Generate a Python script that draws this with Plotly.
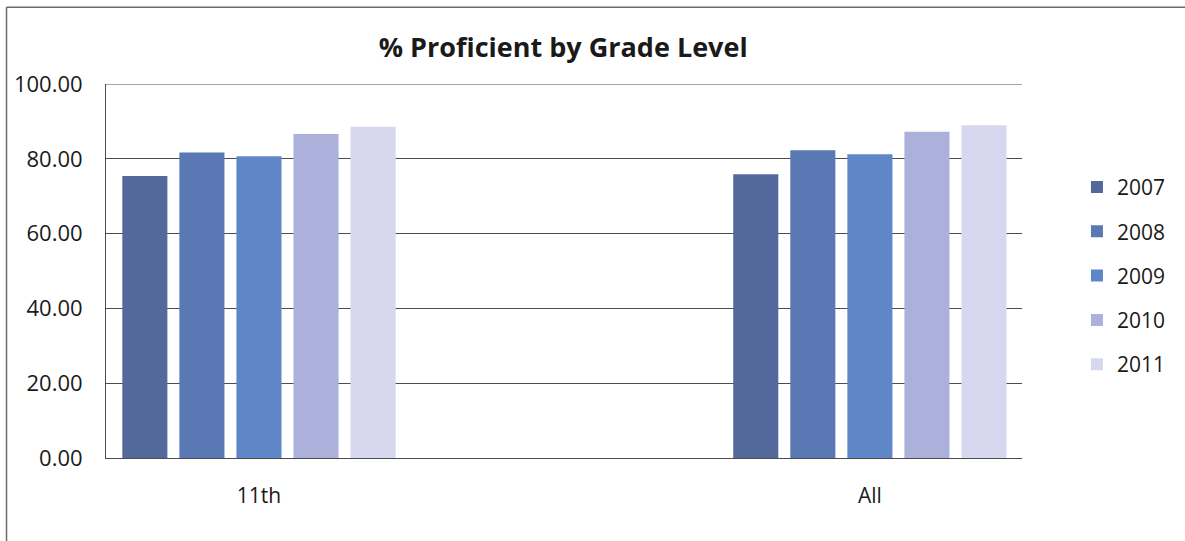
import plotly.graph_objects as go

categories = [0, 1]
category_labels = ["11th", "All"]
years = ["2007", "2008", "2009", "2010", "2011"]
values_2007 = [75.4, 75.9]
values_2008 = [81.7, 82.3]
values_2009 = [80.7, 81.2]
values_2010 = [86.6, 87.2]
values_2011 = [88.6, 89.0]
series = [values_2007, values_2008, values_2009, values_2010, values_2011]
colors = ["#53699c", "#5a78b3", "#5f87c8", "#abb1da", "#d7d7f0"]
y_ticks = [0, 20, 40, 60, 80, 100]
y_tick_labels = ["0.00", "20.00", "40.00", "60.00", "80.00", "100.00"]

FONT = "Open Sans"
GRID = "#4d4d4d"

fig = go.Figure()
for name, vals, col in zip(years, series, colors):
    fig.add_trace(go.Bar(
        x=categories, y=vals, name=name, legendgroup=name,
        marker=dict(color=col, line=dict(width=0)),
    ))

fig.update_layout(
    width=1185, height=541,
    margin=dict(l=106, r=163, t=84, b=83),
    paper_bgcolor="white", plot_bgcolor="white",
    barmode="group", bargap=0.533, bargroupgap=0.21,
    font=dict(family=FONT, color="#1a1a1a"),
    title=dict(text="<b>% Proficient by Grade Level</b>", x=0.4753, xref="container",
               y=0.913, yref="container", xanchor="center", yanchor="middle",
               font=dict(size=27, family=FONT, color="#1a1a1a")),
    showlegend=True,
    legend=dict(x=1.060, xanchor="left", y=0.487, yanchor="middle",
                font=dict(size=21, family=FONT, color="#1a1a1a"),
                tracegroupgap=14, itemwidth=30, bgcolor="rgba(0,0,0,0)"),
    xaxis=dict(range=[-0.2504, 1.249], tickmode="array", tickvals=categories,
               ticktext=category_labels, showgrid=False, zeroline=False,
               showline=True, linecolor=GRID, linewidth=1,
               ticks="", tickfont=dict(size=21, family=FONT, color="#1a1a1a"),
               ticklabelstandoff=19),
    yaxis=dict(range=[0, 100], tickmode="array", tickvals=y_ticks,
               ticktext=y_tick_labels,
               showgrid=True, gridcolor=GRID, gridwidth=1, zeroline=False,
               showline=True, linecolor=GRID, linewidth=1, ticks="",
               tickfont=dict(size=22, family=FONT, color="#1a1a1a"),
               ticklabelstandoff=18),
)

# top gridline at 100 (edge of plot area)
fig.add_shape(type="line", xref="paper", yref="y", x0=0, x1=1, y0=100, y1=100,
              line=dict(color=GRID, width=1))

# outer frame (left and top edges of the chart box)
fig.add_shape(type="line", xref="paper", yref="paper",
              x0=-0.1086, x1=-0.1086, y0=-0.3, y1=1.205,
              line=dict(color="#6a6a6a", width=1.5))
fig.add_shape(type="line", xref="paper", yref="paper",
              x0=-0.1086, x1=1.2, y0=1.205, y1=1.205,
              line=dict(color="#6a6a6a", width=1.5))

fig.write_html("out.html")
